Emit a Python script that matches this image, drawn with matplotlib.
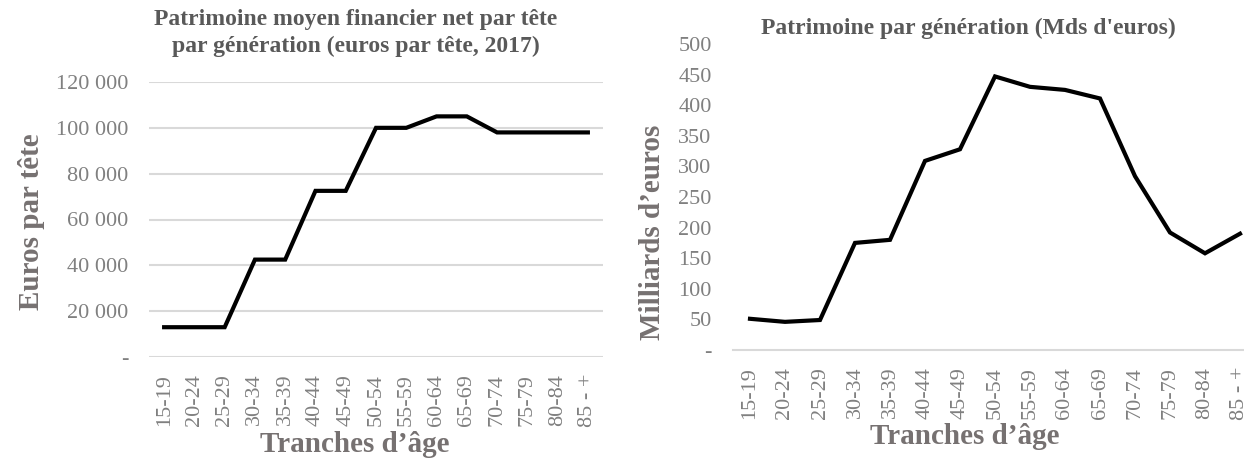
import matplotlib
matplotlib.use("Agg")
from matplotlib import pyplot as plt
from matplotlib.ticker import FuncFormatter
import numpy as np

tranches = ['15-19', '20-24', '25-29', '30-34', '35-39', '40-44', '45-49', '50-54',
            '55-59', '60-64', '65-69', '70-74', '75-79', '80-84', '85 - +']
par_tete = [13000, 13000, 13000, 42500, 42500, 72500, 72500, 100000,
            100000, 105000, 105000, 98000, 98000, 98000, 98000]
mds_euros = [51, 46, 49, 175, 180, 309, 328, 447,
             430, 425, 411, 284, 192, 158, 190]

title_col = '#595959'
label_col = '#767171'
tick_col = '#808080'
grid_col = '#d9d9d9'

plt.rcParams['font.family'] = ['Liberation Serif', 'DejaVu Serif']

fig = plt.figure(figsize=(12.44, 4.59), dpi=100)
x = np.arange(len(tranches))


def fmt_milliers(v, pos):
  if v == 0:
    return '-'
  return '{:,.0f}'.format(v).replace(',', ' ')


def style_axes(ax):
  for s in ax.spines.values():
    s.set_visible(False)
  ax.set_xlim(-0.5, len(tranches) - 0.5)
  ax.set_xticks(x)
  ax.set_xticklabels(tranches, rotation=90)
  ax.tick_params(axis='both', length=0, labelsize=16, labelcolor=tick_col)
  ax.tick_params(axis='y', pad=15)
  ax.tick_params(axis='x', pad=12)
  ax.yaxis.set_major_formatter(FuncFormatter(fmt_milliers))


# panneau gauche
ax1 = fig.add_axes([149 / 1244, 1 - 357 / 459, 454 / 1244, 275 / 459])
style_axes(ax1)
ax1.set_ylim(0, 120000)
ax1.set_yticks(np.arange(0, 120001, 20000))
ax1.grid(axis='y', color=grid_col, linewidth=1.5)
ax1.set_axisbelow(True)
ax1.plot(x, par_tete, color='black', linewidth=3, solid_joinstyle='miter')

fig.text(356 / 1244, 1 - 20 / 459, 'Patrimoine moyen financier net par tête',
         ha='center', va='center', fontsize=17, fontweight='bold', color=title_col)
fig.text(356 / 1244, 1 - 46 / 459, 'par génération (euros par tête, 2017)',
         ha='center', va='center', fontsize=17, fontweight='bold', color=title_col)
fig.text(32 / 1244, 1 - 222 / 459, 'Euros par tête', rotation=90,
         ha='center', va='center', fontsize=21, fontweight='bold', color=label_col)
fig.text(355 / 1244, 1 - 444 / 459, 'Tranches d’âge',
         ha='center', va='center', fontsize=21, fontweight='bold', color=label_col)

# panneau droit
ax2 = fig.add_axes([732.5 / 1244, 1 - 350 / 459, 525 / 1244, 306 / 459])
style_axes(ax2)
ax2.set_ylim(0, 500)
ax2.set_yticks(np.arange(0, 501, 50))
ax2.spines['bottom'].set_visible(True)
ax2.spines['bottom'].set_color(grid_col)
ax2.spines['bottom'].set_linewidth(1.5)
ax2.plot(x, mds_euros, color='black', linewidth=3, solid_joinstyle='miter')

fig.text(968 / 1244, 1 - 28 / 459, "Patrimoine par génération (Mds d'euros)",
         ha='center', va='center', fontsize=17, fontweight='bold', color=title_col)
fig.text(652 / 1244, 1 - 232 / 459, 'Milliards d’euros', rotation=90,
         ha='center', va='center', fontsize=21, fontweight='bold', color=label_col)
fig.text(965 / 1244, 1 - 437 / 459, 'Tranches d’âge',
         ha='center', va='center', fontsize=21, fontweight='bold', color=label_col)

fig.savefig('out.png', dpi=100)
